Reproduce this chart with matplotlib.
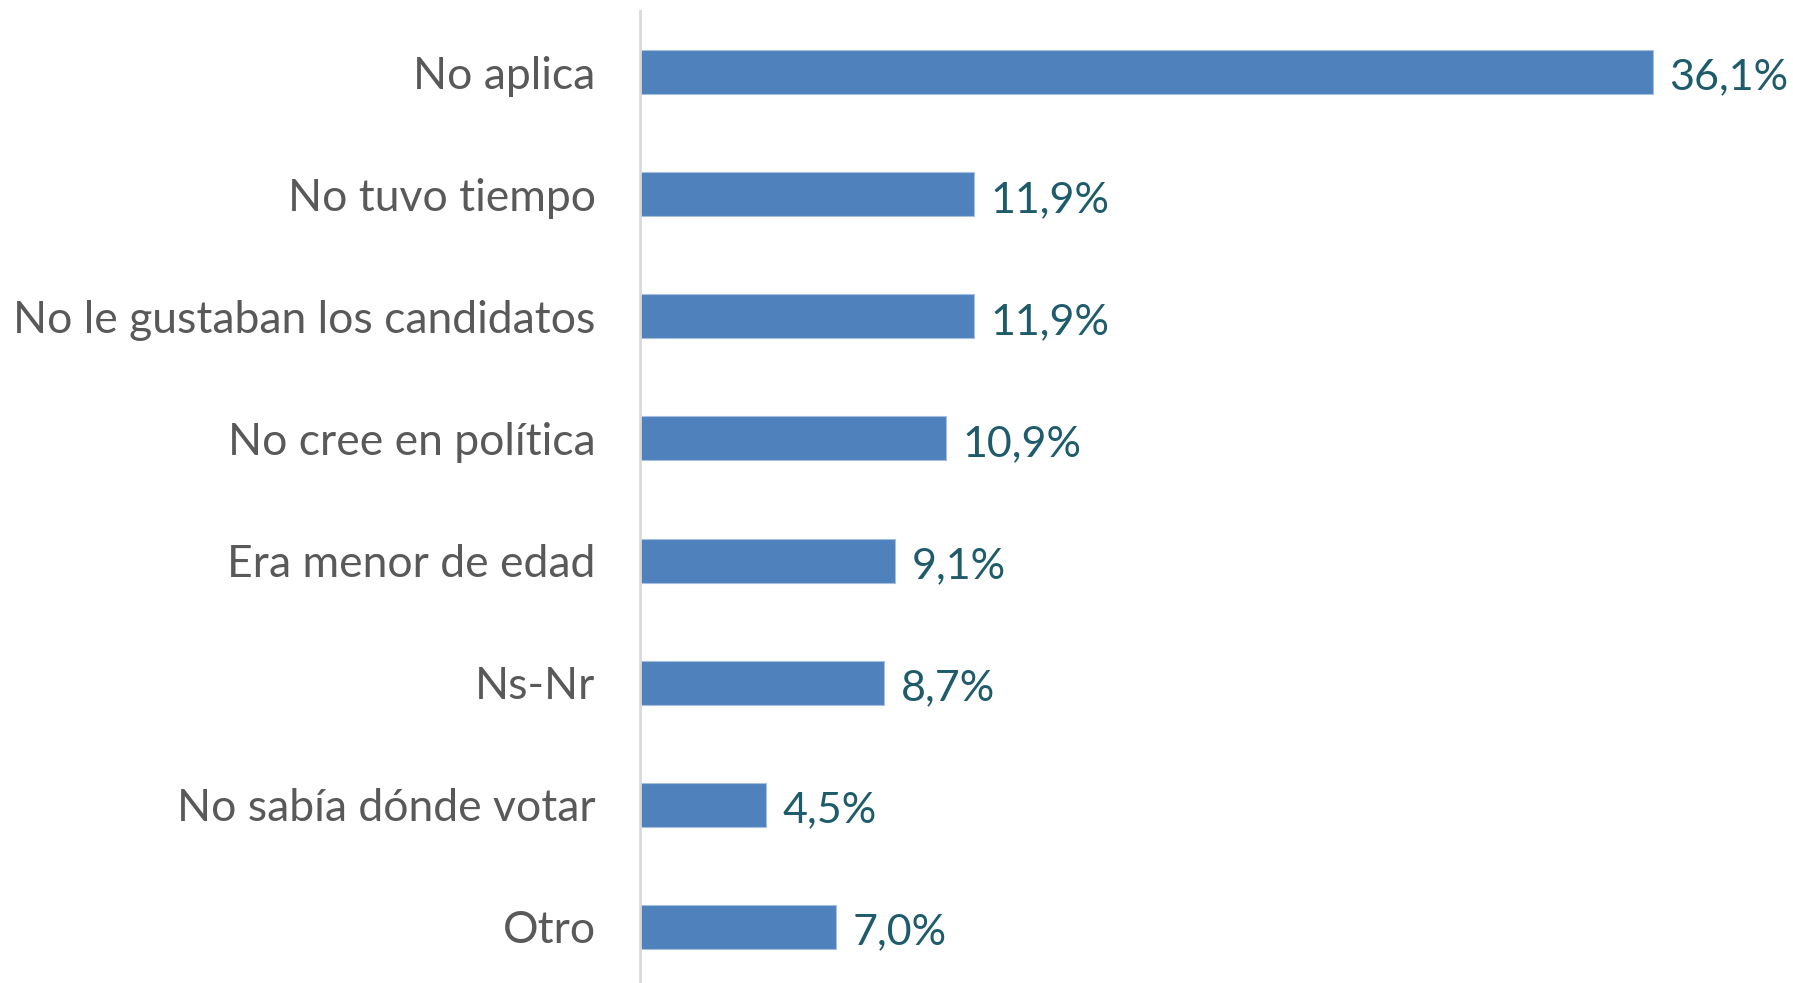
import matplotlib
matplotlib.use("Agg")
import matplotlib.pyplot as plt

categories = ["No aplica", "No tuvo tiempo", "No le gustaban los candidatos",
              "No cree en política", "Era menor de edad", "Ns-Nr",
              "No sabía dónde votar", "Otro"]
values = [36.1, 11.9, 11.9, 10.9, 9.1, 8.7, 4.5, 7.0]
value_labels = ["36,1%", "11,9%", "11,9%", "10,9%", "9,1%", "8,7%", "4,5%", "7,0%"]

plt.rcParams['font.family'] = ['Lato', 'DejaVu Sans']

fig = plt.figure(figsize=(17.93, 9.83), dpi=100)
ax = fig.add_axes([640/1793, 1 - 988/983, (1762-640)/1793, (988-11)/983])

y = list(range(len(categories)))
ax.barh(y, values, height=0.36, color="#4F81BD", edgecolor="#A7BFDE", linewidth=0.8)
ax.set_xlim(0, 40)
ax.set_ylim(len(categories) - 0.5, -0.5)
ax.set_yticks(y)
ax.set_yticklabels(categories, fontsize=32, color="#595959")
ax.tick_params(axis='y', length=0, pad=32)
ax.set_xticks([])
for s in ["top", "right", "bottom"]:
    ax.spines[s].set_visible(False)
ax.spines["left"].set_color("#D9D9D9")
ax.spines["left"].set_linewidth(2)

for yi, v, lab in zip(y, values, value_labels):
    ax.annotate(lab, (v, yi), xytext=(12, -4), textcoords="offset points",
                ha="left", va="center", fontsize=31, color="#1F5C6B",
                annotation_clip=False)

fig.savefig("out.png", dpi=100)
